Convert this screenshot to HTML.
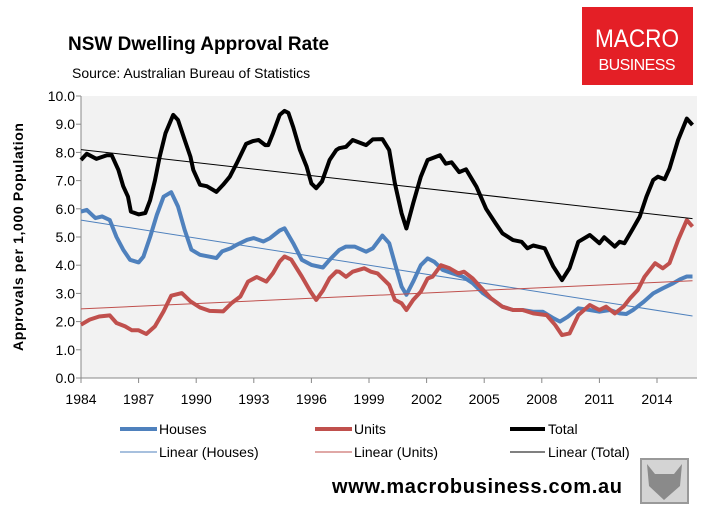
<!DOCTYPE html>
<html><head><meta charset="utf-8"><style>
body{margin:0;background:#fff;width:703px;height:512px;overflow:hidden;font-family:"Liberation Sans",sans-serif}
</style></head><body>
<svg id="c" width="703" height="512" xmlns="http://www.w3.org/2000/svg" font-family="Liberation Sans, sans-serif">
<text x="68" y="50" font-size="19" font-weight="bold">NSW Dwelling Approval Rate</text>
<text x="72" y="78" font-size="14">Source: Australian Bureau of Statistics</text>
<g>
<rect x="582" y="7" width="111" height="78" fill="#e41f26"/>
<text x="637" y="47" font-size="25" fill="#fff" text-anchor="middle" textLength="84" lengthAdjust="spacingAndGlyphs">MACRO</text>
<text x="637" y="70" font-size="16" fill="#fff" text-anchor="middle" textLength="77" lengthAdjust="spacing">BUSINESS</text>
</g>
<rect x="81" y="96" width="616" height="282" fill="#f2f2f2"/>
<g id="axes"></g>
<g id="marks"></g>
<text transform="translate(23,237) rotate(-90)" font-size="14" font-weight="bold" text-anchor="middle" textLength="228">Approvals per 1,000 Population</text>
<g font-size="14">
<line x1="120" y1="429" x2="157" y2="429" stroke="#4f81bd" stroke-width="4"/><text x="159" y="434">Houses</text>
<line x1="315" y1="429" x2="352" y2="429" stroke="#c0504d" stroke-width="4"/><text x="354" y="434">Units</text>
<line x1="510" y1="429" x2="545" y2="429" stroke="#000" stroke-width="4"/><text x="548" y="434">Total</text>
<line x1="120" y1="452" x2="157" y2="452" stroke="#4f81bd" stroke-width="1"/><text x="159" y="457">Linear (Houses)</text>
<line x1="315" y1="452" x2="352" y2="452" stroke="#c0504d" stroke-width="1"/><text x="354" y="457">Linear (Units)</text>
<line x1="510" y1="452" x2="545" y2="452" stroke="#000" stroke-width="1"/><text x="548" y="457">Linear (Total)</text>
</g>
<text x="332" y="493" font-size="20" font-weight="bold" textLength="290">www.macrobusiness.com.au</text>
<g>
<rect x="641" y="459" width="47" height="44" fill="#d4d4d4" stroke="#999" stroke-width="2"/>
<path d="M647 464 L655 474 L674 474 L682 464 L680 486 L664 500 L649 486 Z" fill="#8a8a8a"/>
</g>
</svg>
<script>
const yTicks=[0,1,2,3,4,5,6,7,8,9,10];
const xTicks=[1984,1987,1990,1993,1996,1999,2002,2005,2008,2011,2014];
const totalYears=[1984.0,1984.3,1984.8,1985.35,1985.6,1985.95,1986.2,1986.45,1986.6,1987.0,1987.35,1987.6,1987.85,1988.1,1988.4,1988.8,1989.05,1989.4,1989.7,1989.85,1990.2,1990.55,1991.05,1991.4,1991.75,1992.1,1992.6,1992.95,1993.25,1993.6,1993.75,1994.0,1994.35,1994.6,1994.8,1995.05,1995.4,1995.75,1996.0,1996.25,1996.55,1996.95,1997.3,1997.45,1997.8,1998.15,1998.85,1999.2,1999.7,2000.05,2000.35,2000.7,2000.95,2001.3,2001.7,2002.05,2002.7,2003.0,2003.3,2003.7,2004.05,2004.6,2005.1,2005.6,2005.95,2006.5,2006.95,2007.25,2007.55,2008.15,2008.6,2009.05,2009.45,2009.9,2010.5,2011.0,2011.25,2011.8,2012.05,2012.3,2012.75,2013.1,2013.45,2013.8,2014.05,2014.4,2014.65,2015.1,2015.55,2015.85];
const totalValues=[7.73,7.95,7.77,7.9,7.9,7.38,6.8,6.43,5.9,5.8,5.85,6.3,7.0,7.85,8.68,9.33,9.15,8.44,7.85,7.38,6.85,6.8,6.6,6.85,7.14,7.6,8.3,8.4,8.44,8.26,8.26,8.68,9.33,9.47,9.4,8.9,8.09,7.5,6.9,6.73,6.97,7.73,8.09,8.15,8.2,8.44,8.26,8.46,8.47,8.08,6.9,5.84,5.3,6.2,7.14,7.73,7.9,7.6,7.65,7.3,7.4,6.78,6.0,5.48,5.13,4.89,4.83,4.6,4.7,4.6,3.95,3.47,3.9,4.83,5.07,4.78,4.99,4.66,4.83,4.78,5.3,5.72,6.43,7.02,7.14,7.05,7.43,8.44,9.2,8.97];
const housesYears=[1984.0,1984.3,1984.75,1985.1,1985.5,1985.85,1986.2,1986.55,1987.0,1987.25,1987.6,1987.95,1988.3,1988.7,1989.05,1989.4,1989.75,1990.2,1990.7,1991.05,1991.35,1991.8,1992.1,1992.65,1993.0,1993.5,1993.85,1994.35,1994.6,1995.05,1995.5,1996.0,1996.6,1996.95,1997.45,1997.8,1998.25,1998.85,1999.2,1999.7,2000.05,2000.35,2000.7,2000.95,2001.3,2001.7,2002.05,2002.4,2002.85,2003.35,2003.9,2004.4,2004.95,2005.45,2005.95,2006.5,2007.0,2007.55,2008.05,2008.6,2008.95,2009.35,2009.9,2010.5,2011.0,2011.55,2012.05,2012.4,2012.75,2013.3,2013.8,2014.3,2014.85,2015.2,2015.55,2015.85];
const housesValues=[5.9,5.96,5.67,5.73,5.6,5.0,4.55,4.19,4.1,4.3,5.0,5.78,6.43,6.59,6.08,5.25,4.55,4.37,4.3,4.25,4.49,4.6,4.72,4.9,4.96,4.84,4.96,5.23,5.31,4.78,4.19,4.01,3.92,4.19,4.54,4.66,4.66,4.48,4.6,5.05,4.78,4.06,3.24,2.95,3.42,4.0,4.24,4.12,3.83,3.71,3.59,3.36,3.0,2.77,2.53,2.41,2.41,2.35,2.35,2.12,2.0,2.17,2.47,2.41,2.35,2.41,2.29,2.27,2.41,2.7,3.0,3.18,3.36,3.5,3.6,3.6];
const unitsYears=[1984.0,1984.45,1984.95,1985.5,1985.85,1986.3,1986.65,1987.0,1987.4,1987.85,1988.3,1988.7,1989.25,1989.7,1990.2,1990.7,1991.4,1991.85,1992.3,1992.7,1993.15,1993.65,1994.0,1994.35,1994.6,1994.95,1995.5,1995.95,1996.25,1996.6,1996.95,1997.3,1997.45,1997.8,1998.15,1998.75,1999.1,1999.45,2000.05,2000.35,2000.7,2000.95,2001.3,2001.7,2002.05,2002.3,2002.75,2003.2,2003.65,2003.95,2004.4,2004.95,2005.35,2005.95,2006.5,2007.0,2007.55,2008.25,2008.7,2009.05,2009.45,2009.9,2010.5,2011.0,2011.35,2011.8,2012.25,2012.6,2013.0,2013.35,2013.9,2014.3,2014.65,2015.1,2015.55,2015.85];
const unitsValues=[1.89,2.07,2.18,2.22,1.95,1.83,1.69,1.69,1.56,1.83,2.36,2.92,3.01,2.72,2.5,2.38,2.36,2.66,2.89,3.42,3.58,3.42,3.72,4.13,4.31,4.2,3.6,3.07,2.77,3.1,3.54,3.78,3.77,3.59,3.77,3.89,3.77,3.71,3.3,2.77,2.65,2.41,2.77,3.06,3.53,3.59,4.0,3.89,3.71,3.77,3.53,3.12,2.83,2.53,2.41,2.41,2.29,2.23,1.88,1.52,1.58,2.23,2.59,2.41,2.53,2.29,2.53,2.83,3.12,3.59,4.07,3.89,4.07,4.89,5.6,5.37];
const trendHouses=[5.6,2.2];
const trendUnits=[2.45,3.45];
const trendTotal=[8.1,5.65];

const X0=81,PXY=19.2,Y0=378,PYU=28.2;
const xs=y=>X0+(y-1984)*PXY;
const ys=v=>Y0-v*PYU;
const NS='http://www.w3.org/2000/svg';
const axes=document.getElementById('axes'),marks=document.getElementById('marks');
function mk(t,a,p){const e=document.createElementNS(NS,t);for(const k in a)e.setAttribute(k,a[k]);p.appendChild(e);return e;}
let ax=mk('line',{x1:X0,y1:96,x2:X0,y2:Y0,stroke:'#888'},axes);


let bx=mk('line',{x1:X0,y1:Y0,x2:697,y2:Y0,stroke:'#888'},axes);


yTicks.forEach(v=>{
  mk('line',{x1:X0-5,y1:ys(v),x2:X0,y2:ys(v),stroke:'#888'},axes);
  const t=mk('text',{x:X0-6,y:ys(v)+5,'font-size':14,'text-anchor':'end'},axes);
  t.textContent=v.toFixed(1);
  
  
});
xTicks.forEach(v=>{
  mk('line',{x1:xs(v),y1:Y0,x2:xs(v),y2:Y0+5,stroke:'#888'},axes);
  const t=mk('text',{x:xs(v),y:Y0+26,'font-size':14,'text-anchor':'middle'},axes);
  t.textContent=v;
  
  
});
function series(X,Y,T,color,name){
  const d=X.map((x,i)=>(i?'L':'M')+xs(x).toFixed(1)+' '+ys(Y[i]).toFixed(1)).join(' ');
  const p=mk('path',{d:d,fill:'none',stroke:color,'stroke-width':4,'stroke-linejoin':'round'},marks);
  
  
  const x1=X[0],x2=X[X.length-1];
  const l=mk('line',{x1:xs(x1),y1:ys(T[0]),x2:xs(x2),y2:ys(T[1]),stroke:color,'stroke-width':1},marks);
  
  
}
series(housesYears,housesValues,trendHouses,'#4f81bd','houses');
series(unitsYears,unitsValues,trendUnits,'#c0504d','units');
series(totalYears,totalValues,trendTotal,'#000000','total');
</script>
</body></html>
